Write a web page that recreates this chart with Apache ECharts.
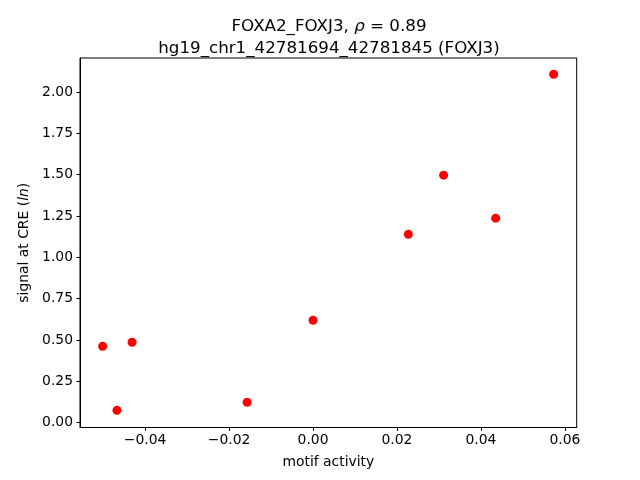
<!DOCTYPE html>
<html>
<head>
<meta charset="utf-8">
<script src="https://cdn.jsdelivr.net/npm/echarts@6/dist/echarts.min.js"></script>
<style>html,body{margin:0;padding:0;background:#fff}#c{width:640px;height:480px}</style>
</head>
<body>
<div id="c"></div>
<script>
const motifActivity = [-0.0501, -0.0467, -0.0431, -0.0157, 0.0000, 0.0227, 0.0311, 0.0435, 0.0573];
const signalCRE     = [0.462, 0.074, 0.486, 0.123, 0.619, 1.139, 1.497, 1.237, 2.108];
const xTicks = [-0.04, -0.02, 0.00, 0.02, 0.04, 0.06];
const yTicks = [0.00, 0.25, 0.50, 0.75, 1.00, 1.25, 1.50, 1.75, 2.00];

const FONT = 'DejaVu Sans';
const fmt = v => v.toFixed(2).replace('-', '\u2212');
const chart = echarts.init(document.getElementById('c'), null, {renderer: 'canvas'});
chart.setOption({
  animation: false,
  backgroundColor: '#fff',
  title: {
    text: '{a|FOXA2_FOXJ3, }{i|ρ}{a| = 0.89}\n{a|hg19_chr1_42781694_42781845 (FOXJ3)}',
    left: 324, top: 11, textAlign: 'center',
    textStyle: {
      fontWeight: 'normal',
      rich: {
        a: {fontFamily: FONT, fontSize: 16.7, fontWeight: 'normal', color: '#000', lineHeight: 22},
        i: {fontFamily: FONT, fontSize: 16.7, fontWeight: 'normal', color: '#000', fontStyle: 'italic', lineHeight: 22}
      }
    }
  },
  grid: {left: 80, right: 63.3, top: 58, bottom: 52.5, show: true, borderColor: '#000', borderWidth: 1, containLabel: false},
  xAxis: {
    type: 'value', min: -0.0555, max: 0.0628,
    name: 'motif activity', nameLocation: 'middle', nameGap: 28,
    nameTextStyle: {fontFamily: FONT, fontSize: 13.9, color: '#000'},
    axisLine: {show: true, onZero: false, lineStyle: {color: '#000', width: 1}},
    axisTick: {show: true, length: 3.5, lineStyle: {color: '#000'}, customValues: xTicks},
    axisLabel: {fontFamily: FONT, fontSize: 13.9, color: '#000', margin: 6, customValues: xTicks, formatter: fmt},
    splitLine: {show: false}
  },
  yAxis: {
    type: 'value', min: -0.03, max: 2.206,
    name: 'signal at CRE ({i|ln})', nameLocation: 'middle', nameGap: 48, nameRotate: 90,
    nameTextStyle: {fontFamily: FONT, fontSize: 13.9, color: '#000',
      rich: {i: {fontFamily: FONT, fontSize: 13.9, color: '#000', fontStyle: 'italic'}}},
    axisLine: {show: true, onZero: false, lineStyle: {color: '#000', width: 1}},
    axisTick: {show: true, length: 3.5, lineStyle: {color: '#000'}, customValues: yTicks},
    axisLabel: {fontFamily: FONT, fontSize: 13.9, color: '#000', margin: 7, customValues: yTicks, formatter: fmt},
    splitLine: {show: false}
  },
  series: [{
    type: 'scatter',
    data: motifActivity.map((x, i) => [x, signalCRE[i]]),
    symbol: 'circle', symbolSize: 9,
    itemStyle: {color: '#ff0000', opacity: 1}
  }]
});
</script>
</body>
</html>
